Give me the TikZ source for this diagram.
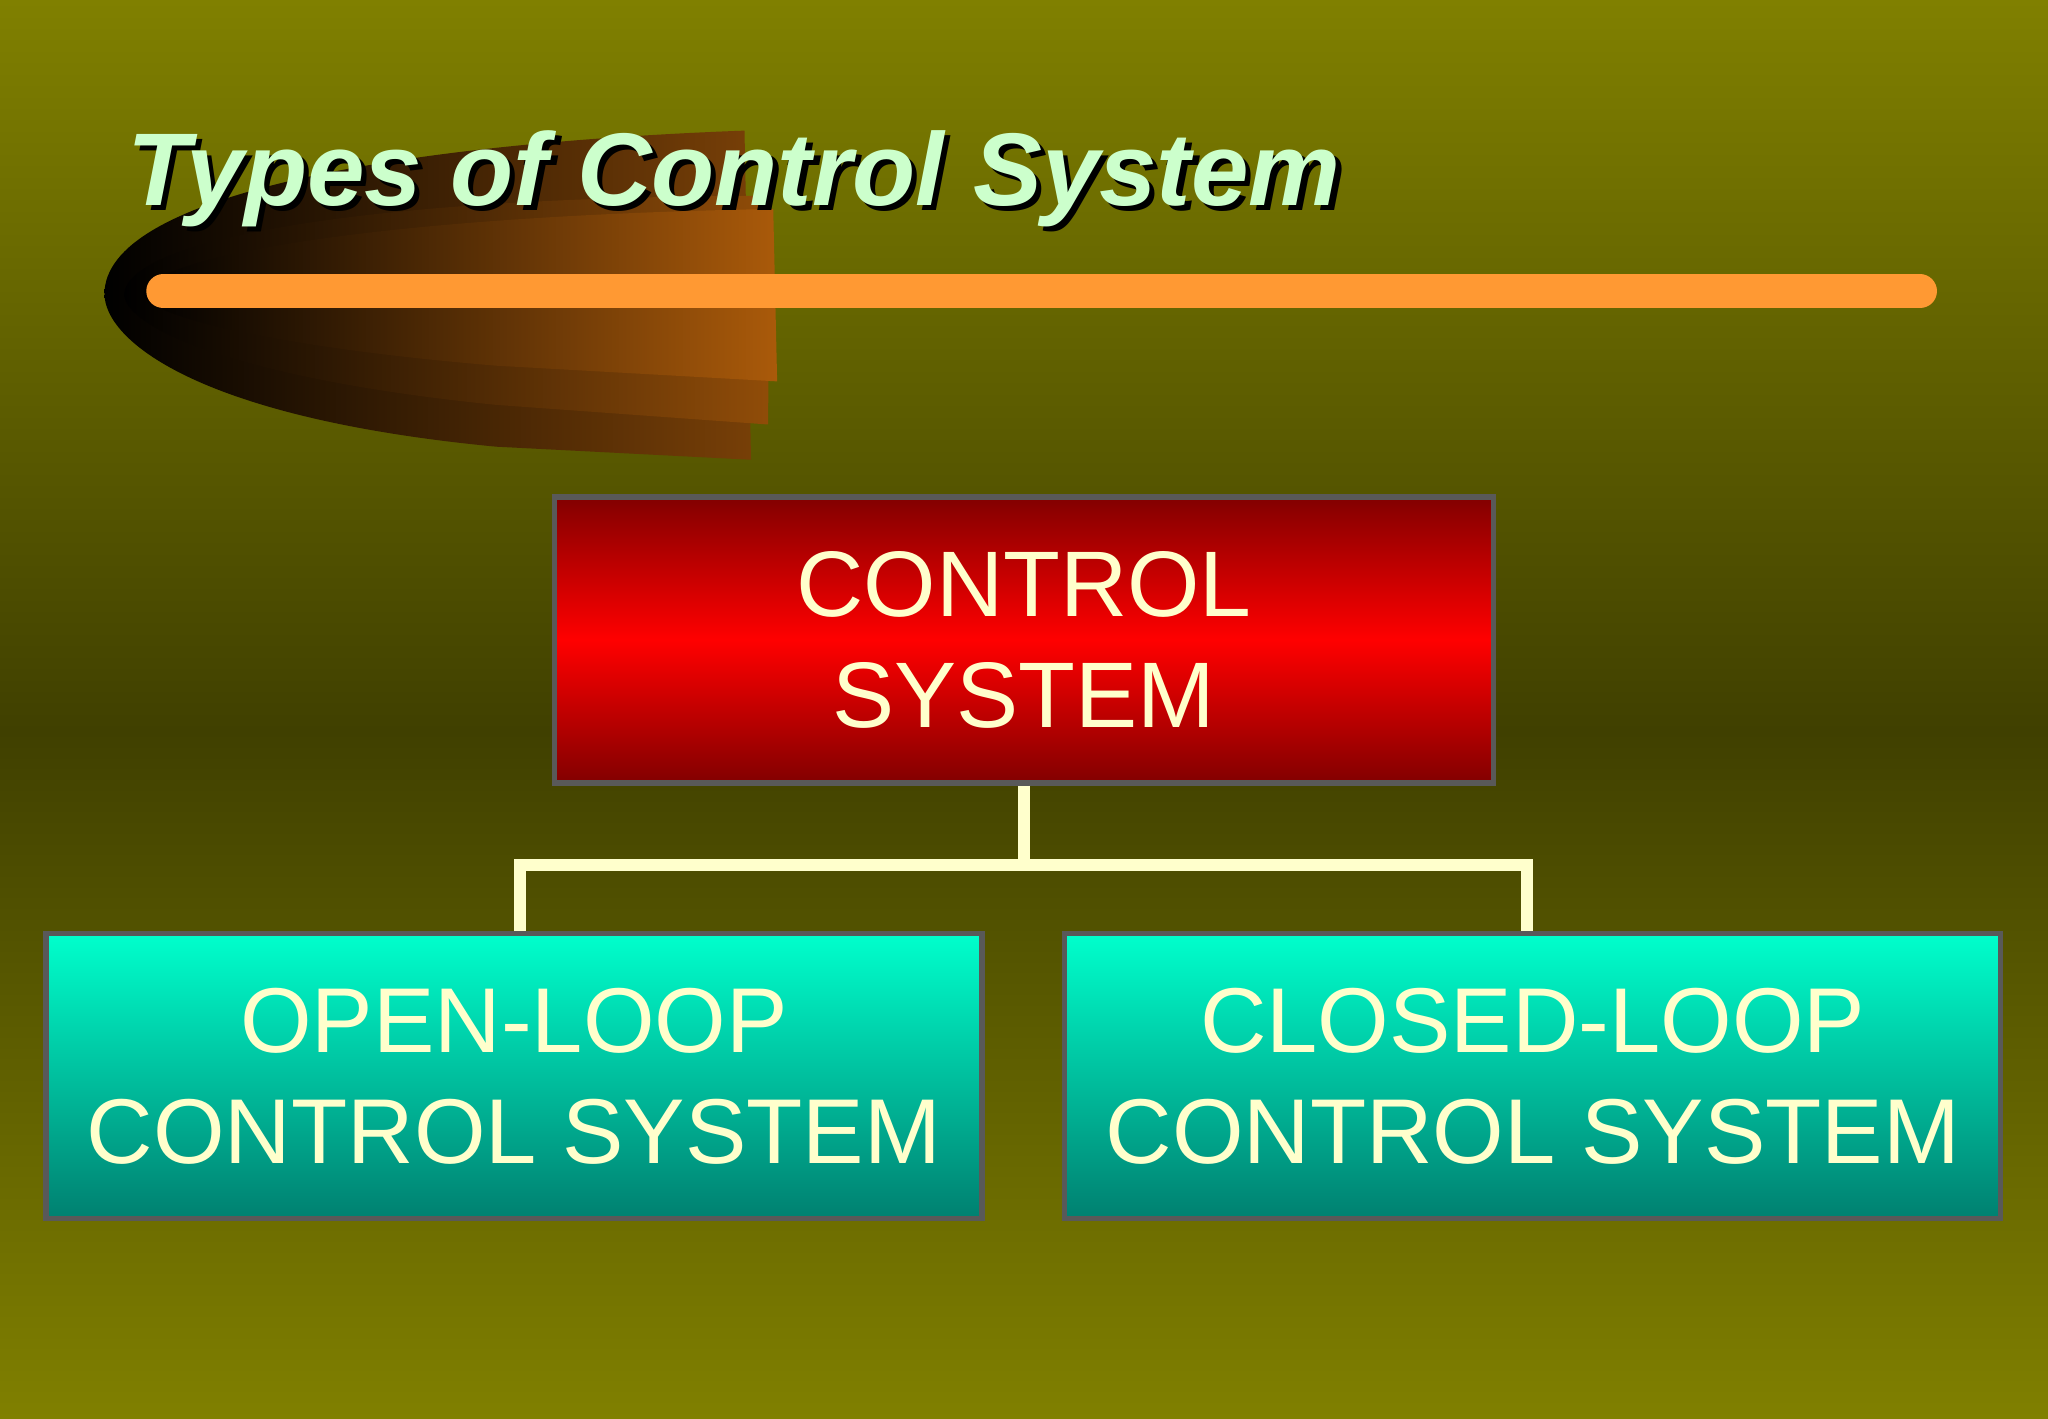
\documentclass[tikz,border=0pt]{standalone}
\usepackage{fontspec}
\setmainfont{Liberation Sans}
\definecolor{olv}{RGB}{128,128,0}
\definecolor{olvd}{RGB}{64,64,0}
\definecolor{ttl}{RGB}{204,255,204}
\definecolor{org}{RGB}{255,153,51}
\definecolor{txt}{RGB}{255,255,204}
\definecolor{dred}{RGB}{130,0,0}
\definecolor{cyt}{RGB}{0,255,204}
\definecolor{cyb}{RGB}{0,128,112}
\definecolor{brn}{RGB}{170,90,10}
\tikzset{
 redbox/.style={draw=gray!70!black,line width=1.5pt,top color=dred,bottom color=dred,middle color=red,minimum width=9.39cm,minimum height=2.86cm,inner sep=0pt,align=center,text=txt,font=\fontsize{26.5}{31.5}\selectfont},
 cybox/.style={draw=gray!70!black,line width=1.5pt,top color=cyt,bottom color=cyb,minimum width=9.36cm,minimum height=2.85cm,inner sep=0pt,align=center,text=txt,font=\fontsize{26.2}{31.5}\selectfont},
 conn/.style={draw=txt,line width=3.5pt},
 ttlfont/.style={anchor=base west,font=\fontsize{29.4}{34}\bfseries\itshape\selectfont}
}
\begin{document}
\begin{tikzpicture}[x=0.013061cm,y=-0.013061cm]
\useasboundingbox (0,0) rectangle (1568,1086);
\shade[top color=olv,bottom color=olvd] (0,0) rectangle (1568,560);
\shade[top color=olvd,bottom color=olv] (0,560) rectangle (1568,1086);
% swoosh
\shade[left color=black,right color=brn!70!black] (575,352) -- (380,342) .. controls (150,320) and (80,260) .. (80,225) .. controls (80,150) and (300,110) .. (570,100) -- cycle;
\shade[left color=black,right color=brn!85!black] (588,325) -- (380,310) .. controls (180,290) and (95,250) .. (95,225) .. controls (100,180) and (300,150) .. (590,150) -- cycle;
\shade[left color=black,right color=brn] (595,292) -- (380,280) .. controls (200,265) and (110,240) .. (110,225) .. controls (115,195) and (300,165) .. (592,160) -- cycle;
\draw[org,line width=26*0.13061mm,line cap=round] (125,223) -- (1470,223);
\node[ttlfont,text=black] (titleshadow) at (92,161) {Types of Control System};
\node[ttlfont,text=ttl] (title) at (88,157) {Types of Control System};
\node[redbox] (cs) at (784,490) {CONTROL\\SYSTEM};
\node[cybox] (ol) at (393.5,824) {OPEN-LOOP\\CONTROL SYSTEM};
\node[cybox] (cl) at (1173.5,824) {CLOSED-LOOP\\CONTROL SYSTEM};
\coordinate (j) at (784,662);
\draw[conn] (cs.south) -- (j);
\draw[conn] (ol.north -| 398,0) -- (398,662) -- (1169,662) -- (cl.north -| 1169,0);
\end{tikzpicture}
\end{document}
